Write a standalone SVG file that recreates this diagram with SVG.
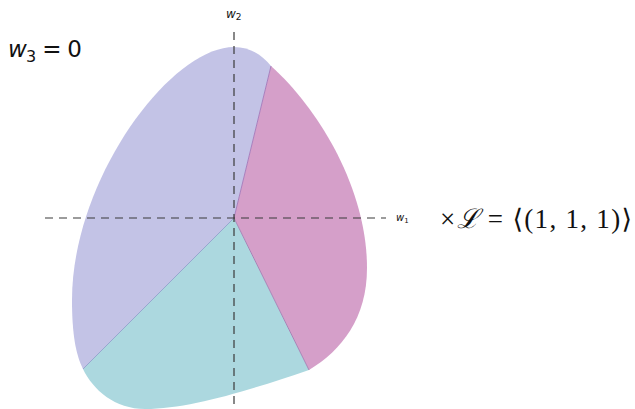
<svg xmlns="http://www.w3.org/2000/svg" width="635" height="409" viewBox="0 0 635 409">
<style>
.axis{stroke:#3a3a3a;stroke-width:1.2;stroke-dasharray:8,6;fill:none}
.sans{font-family:"DejaVu Sans","Liberation Sans",sans-serif;fill:#111}
.serif{font-family:"Liberation Serif","DejaVu Serif",serif;fill:#111}
</style>
<rect width="635" height="409" fill="#fff"/>
<g id="region-blue"><path d="M234,218 L271,66 C262,55 250,47 234,47 C170,47 72,180 72,300 C72,335 76,355 83,369 Z" fill="#c3c3e6"/></g>
<g id="region-pink"><path d="M234,218 L271,66 C320,110 367,190 367,268 C367,318 342,350 309,370 Z" fill="#d59fc9"/></g>
<g id="region-teal"><path d="M234,218 L309,370 C250,390 190,409 145,409 C115,409 93,390 83,369 Z" fill="#acd8df"/></g>
<g id="boundaries" fill="none" stroke-width="1">
<line x1="234" y1="218" x2="271" y2="66" stroke="#a77fbd"/>
<line x1="234" y1="218" x2="309" y2="370" stroke="#a883b5"/>
<line x1="234" y1="218" x2="83" y2="369" stroke="#98a6cf"/>
</g>
<g id="axes">
<line class="axis" x1="45" y1="218" x2="386" y2="218"/>
<line class="axis" x1="234" y1="404" x2="234" y2="29"/>
</g>
<g id="labels">
<text class="sans" x="226" y="18" font-size="12" font-style="italic">w<tspan font-size="9" font-style="normal" dy="2">2</tspan></text>
<text class="sans" x="396" y="221" font-size="10" font-style="italic">w<tspan font-size="7" font-style="normal" dy="2">1</tspan></text>
<text class="sans" x="8" y="57" font-size="23" textLength="74" lengthAdjust="spacing"><tspan font-style="italic">w</tspan><tspan font-size="16" dy="5">3</tspan><tspan dy="-5"> = 0</tspan></text>
<text class="serif" x="440" y="228" font-size="27" textLength="192" lengthAdjust="spacing">×<tspan font-family="DejaVu Serif" font-style="italic">ℒ</tspan> = ⟨(1, 1, 1)⟩</text>
</g>
</svg>
